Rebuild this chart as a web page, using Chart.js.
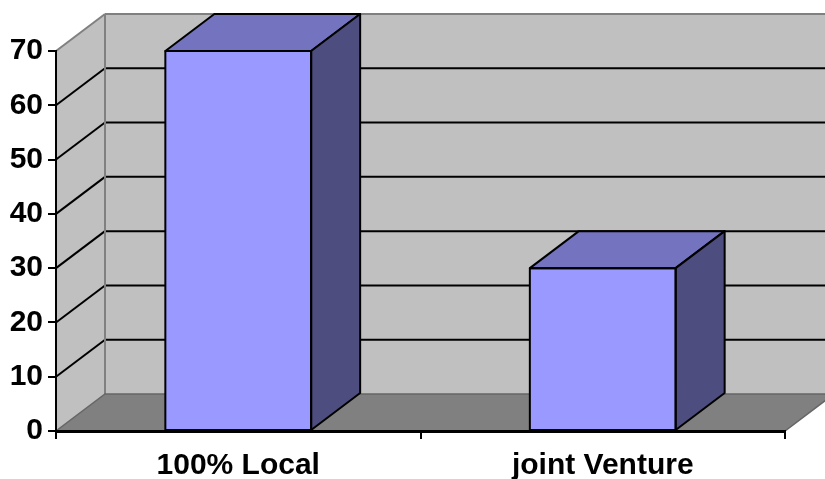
<!DOCTYPE html>
<html>
<head>
<meta charset="utf-8">
<script src="https://cdn.jsdelivr.net/npm/chart.js@4.4.1/dist/chart.umd.min.js"></script>
<style>
  html, body { margin: 0; padding: 0; background: #ffffff; }
  #wrap { width: 825px; height: 479px; }
</style>
</head>
<body>
<div id="wrap"><canvas id="c" width="825" height="479"></canvas></div>
<script>
// Ownership categories and their values
const categories = ['100% Local', 'joint Venture'];
const values = [70, 30];
const yTicks = [0, 10, 20, 30, 40, 50, 60, 70];

// Depth of the pseudo-3D box (back plane offset)
const DEPTH_X = 49;
const DEPTH_Y = 37;

const WALL = '#c0c0c0';
const FLOOR = '#808080';
const EDGE = '#808080';
const BAR_FRONT = '#9999ff';
const BAR_TOP = '#7373bf';
const BAR_SIDE = '#4d4d80';

function poly(ctx, pts, fill, stroke, lw) {
  ctx.beginPath();
  ctx.moveTo(pts[0][0], pts[0][1]);
  for (let i = 1; i < pts.length; i++) ctx.lineTo(pts[i][0], pts[i][1]);
  ctx.closePath();
  if (fill) { ctx.fillStyle = fill; ctx.fill(); }
  if (stroke) { ctx.strokeStyle = stroke; ctx.lineWidth = lw || 2; ctx.stroke(); }
}

function line(ctx, x1, y1, x2, y2, color, lw) {
  ctx.beginPath();
  ctx.moveTo(x1, y1);
  ctx.lineTo(x2, y2);
  ctx.strokeStyle = color;
  ctx.lineWidth = lw;
  ctx.stroke();
}

// Back wall, side wall, floor and their gridlines
const box3d = {
  id: 'box3d',
  beforeDraw(chart) {
    const ctx = chart.ctx;
    const a = chart.chartArea;
    const ys = chart.scales.y;
    const top = ys.getPixelForValue(yTicks[yTicks.length - 1]);
    const bot = ys.getPixelForValue(0);
    const L = a.left, R = a.right;
    ctx.save();
    // back wall
    poly(ctx, [[L + DEPTH_X, top - DEPTH_Y], [R + DEPTH_X, top - DEPTH_Y],
               [R + DEPTH_X, bot - DEPTH_Y], [L + DEPTH_X, bot - DEPTH_Y]], WALL);
    // side wall
    poly(ctx, [[L, top], [L + DEPTH_X, top - DEPTH_Y],
               [L + DEPTH_X, bot - DEPTH_Y], [L, bot]], WALL);
    // gridlines on both walls
    yTicks.forEach(v => {
      if (v === 0 || v === yTicks[yTicks.length - 1]) return;
      const y = ys.getPixelForValue(v);
      line(ctx, L, y, L + DEPTH_X, y - DEPTH_Y, '#000', 2);
      line(ctx, L + DEPTH_X, y - DEPTH_Y, R + DEPTH_X, y - DEPTH_Y, '#000', 2);
    });
    // wall edges
    line(ctx, L, top, L + DEPTH_X, top - DEPTH_Y, EDGE, 2);
    line(ctx, L + DEPTH_X, top - DEPTH_Y, R + DEPTH_X, top - DEPTH_Y, EDGE, 2);
    line(ctx, L + DEPTH_X, top - DEPTH_Y, L + DEPTH_X, bot - DEPTH_Y, EDGE, 2);
    // floor
    poly(ctx, [[L, bot], [R, bot], [R + DEPTH_X, bot - DEPTH_Y], [L + DEPTH_X, bot - DEPTH_Y]],
         FLOOR, '#666666', 1.5);
    ctx.restore();
  },
  afterDatasetsDraw(chart) {
    const ctx = chart.ctx;
    const meta = chart.getDatasetMeta(0);
    ctx.save();
    ctx.lineJoin = 'round';
    meta.data.forEach(bar => {
      const p = bar.getProps(['x', 'y', 'base', 'width'], true);
      const x1 = p.x - p.width / 2, x2 = p.x + p.width / 2;
      const yt = p.y, yb = p.base;
      // top face
      poly(ctx, [[x1, yt], [x2, yt], [x2 + DEPTH_X, yt - DEPTH_Y], [x1 + DEPTH_X, yt - DEPTH_Y]],
           BAR_TOP, '#000', 2);
      // right face
      poly(ctx, [[x2, yt], [x2 + DEPTH_X, yt - DEPTH_Y], [x2 + DEPTH_X, yb - DEPTH_Y], [x2, yb]],
           BAR_SIDE, '#000', 2);
      // front outline
      ctx.strokeStyle = '#000';
      ctx.lineWidth = 2;
      ctx.strokeRect(x1, yt, p.width, yb - yt);
    });
    ctx.restore();
  }
};

new Chart(document.getElementById('c'), {
  type: 'bar',
  data: {
    labels: categories,
    datasets: [{
      data: values,
      backgroundColor: BAR_FRONT,
      borderColor: '#000',
      borderWidth: 0,
      barPercentage: 0.4,
      categoryPercentage: 1.0
    }]
  },
  options: {
    responsive: false,
    animation: false,
    devicePixelRatio: 1,
    layout: { padding: { left: 0, right: 40, top: 51, bottom: 0 } },
    plugins: { legend: { display: false }, tooltip: { enabled: false } },
    scales: {
      x: {
        grid: { display: true, drawOnChartArea: false, drawTicks: true, tickLength: 8,
                color: '#000', lineWidth: 2, offset: true },
        border: { display: true, color: '#000', width: 3 },
        ticks: { color: '#000', padding: 9, maxRotation: 0,
                 font: { family: 'Liberation Sans', size: 30, weight: 'bold' } },
        afterFit(s) { s.height = 48; }
      },
      y: {
        min: 0, max: 70,
        afterBuildTicks(s) { s.ticks = yTicks.map(v => ({ value: v })); },
        grid: { display: true, drawOnChartArea: false, drawTicks: true, tickLength: 8,
                color: '#000', lineWidth: 2 },
        border: { display: true, color: '#000', width: 2 },
        ticks: { color: '#000', padding: 5,
                 font: { family: 'Liberation Sans', size: 30, weight: 'bold' } },
        afterFit(s) { s.width = 56; }
      }
    }
  },
  plugins: [box3d]
});
</script>
</body>
</html>
